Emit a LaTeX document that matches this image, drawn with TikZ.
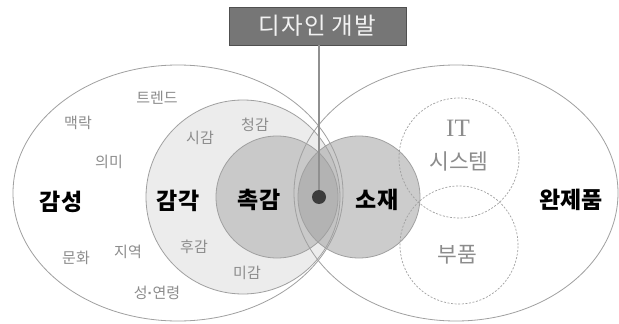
\documentclass[tikz,border=0pt]{standalone}
\usepackage{fontspec}
\setmainfont{Noto Sans CJK KR}
\newfontfamily\kr{Noto Sans CJK KR}
\newfontfamily\latinserif{Liberation Serif}
\newfontfamily\latinsans{Liberation Sans}
\usetikzlibrary{shapes.geometric}
\definecolor{edgegray}{RGB}{160,160,160}
\definecolor{sensefill}{RGB}{236,236,236}
\definecolor{touchfill}{RGB}{201,201,201}
\definecolor{matfill}{RGB}{162,162,162}
\definecolor{smalltext}{RGB}{140,140,140}
\definecolor{boxfill}{RGB}{118,118,118}
\definecolor{boxedge}{RGB}{80,80,80}
\definecolor{dotfill}{RGB}{60,60,60}
\tikzset{
  outline/.style={draw=edgegray, line width=0.8pt},
  dashcircle/.style={draw=edgegray, line width=0.7pt, dash pattern=on 2pt off 1.6pt},
  small/.style={text=smalltext, font=\kr\fontsize{15}{16}\selectfont, inner sep=0pt},
  big/.style={text=black, font=\kr\bfseries\fontsize{23}{24}\selectfont, inner sep=0pt},
  mid/.style={text=smalltext, font=\kr\fontsize{21.5}{22}\selectfont, inner sep=0pt, align=center},
}
\begin{document}
\begin{tikzpicture}[x=1pt,y=-1pt]
\useasboundingbox (0,0) rectangle (619,324);
\fill[white] (0,0) rectangle (619,324);
% fills
\fill[sensefill] (243,197) circle [radius=97pt];
\fill[touchfill] (277,197) circle [radius=61pt];
\fill[matfill, fill opacity=0.54] (359,197) circle [radius=61pt];
% outlines
\draw[outline] (178,193) ellipse [x radius=165pt, y radius=128pt];
\draw[outline] (456,193) ellipse [x radius=162pt, y radius=128pt];
\draw[outline] (243,197) circle [radius=97pt];
\draw[outline] (277,197) circle [radius=61pt];
\draw[outline] (359,197) circle [radius=61pt];
\draw[dashcircle] (459,158) circle [radius=60pt];
\draw[dashcircle] (459,245) circle [radius=59pt];
% title and connector
\node[name=title, draw=boxedge, fill=boxfill, line width=0.8pt, minimum width=177pt, minimum height=38pt, inner sep=0pt,
  text={rgb,255:red,242;green,242;blue,242}, font=\kr\fontsize{23.5}{24}\selectfont] at (317.5,26) {디\kern1pt 자\kern1pt 인\kern1pt\ 개\kern1pt 발};
\coordinate (dotc) at (319,197);
\draw[edgegray!90!black, line width=1.2pt] (title.south -| dotc) -- (dotc);
\node[name=dot, circle, fill=dotfill, minimum size=14pt, inner sep=0pt] at (dotc) {};
% big labels
\node[big, name=lgamsung] at (61,202) {감성};
\node[big, name=lgamgak] at (178,201) {감각};
\node[big, name=lchok] at (259,200) {촉감};
\node[big, name=lsojae] at (377,200) {소재};
\node[big, name=lwan] at (571,200) {완제품};
% small labels
\node[small, name=t1] at (157,98) {트렌드};
\node[small, name=t2] at (78,123) {맥락};
\node[small, name=t3] at (109,162) {의미};
\node[small, name=t4] at (200,138) {시감};
\node[small, name=t5] at (255,125) {청감};
\node[small, name=t6] at (194,247) {후감};
\node[small, name=t7] at (247,273) {미감};
\node[small, name=t8] at (76,258) {문화};
\node[small, name=t9] at (128,252) {지역};
\node[small, name=t10] at (157,293) {성{\latinsans\bfseries ·}연령};
\node[mid, name=it, font=\latinserif\fontsize{25}{25}\selectfont] at (458,128) {IT};
\node[mid, name=sys] at (459,161) {시스템};
\node[mid, name=bupum] at (457,255) {부품};
\end{tikzpicture}
\end{document}
